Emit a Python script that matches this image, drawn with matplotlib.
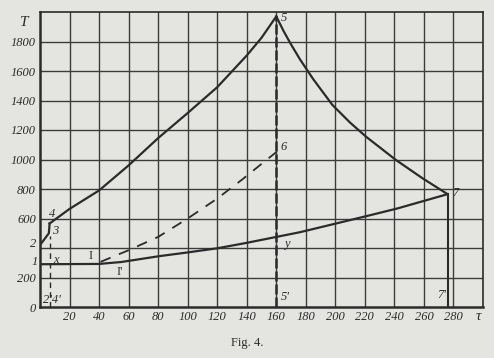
import matplotlib.pyplot as plt

# values (tau, T)
upper_tau = [6.5, 20, 40, 60, 80, 100, 120, 140, 150, 160]
upper_T = [566, 665, 790, 960, 1145, 1315, 1490, 1705, 1825, 1970]

right_tau = [160, 165, 170, 176, 185, 198, 210, 221, 241, 259, 276]
right_T = [1970, 1870, 1780, 1680, 1545, 1370, 1250, 1153, 997, 873, 765]

lower_tau = [0, 40, 55, 68, 81, 100, 120, 140, 160, 176, 200, 221, 242, 276]
lower_T = [290, 292, 305, 325, 345, 370, 398, 435, 475, 507, 565, 616, 668, 765]

dash_tau = [41, 60, 80, 100, 120, 137, 150, 160]
dash_T = [306, 385, 475, 600, 735, 865, 970, 1050]

start_tau = [0, 6, 6.5]     # 2 -> 3 -> 4
start_T = [420, 500, 566]

xticks = list(range(20, 300, 20))
yticks = [0, 200, 600, 800, 1000, 1200, 1400, 1600, 1800]

ink = '#2b2b2b'
paper = '#e4e4e0'

fig = plt.figure(figsize=(4.94, 3.58), dpi=100, facecolor=paper)
ax = fig.add_axes([40 / 494, 51 / 358, 443 / 494, 295 / 358], facecolor=paper)
ax.set_xlim(0, 300)
ax.set_ylim(0, 2000)

# grid
for x in range(20, 300, 20):
    ax.axvline(x, color='#3c3c3c', lw=1.0, zorder=1)
for y in range(200, 2000, 200):
    ax.axhline(y, color='#3c3c3c', lw=1.0, zorder=1)
for s in ax.spines.values():
    s.set_color(ink)
    s.set_linewidth(1.2)
ax.spines['left'].set_linewidth(1.8)
ax.spines['bottom'].set_linewidth(1.8)

# curves
ax.plot(upper_tau, upper_T, color=ink, lw=1.6, zorder=3)
ax.plot(right_tau, right_T, color=ink, lw=1.6, zorder=3)
ax.plot(lower_tau, lower_T, color=ink, lw=1.6, zorder=3)
ax.plot(start_tau, start_T, color=ink, lw=1.6, zorder=3)
ax.plot(dash_tau, dash_T, color=ink, lw=1.3, ls=(0, (6, 5)), zorder=3)
ax.plot([160, 160], [0, 1970], color=ink, lw=1.8, ls=(0, (4, 1.2)), zorder=3)
ax.plot([6.5, 6.5], [0, 480], color=ink, lw=1.0, ls=(0, (4, 3)), zorder=3)
ax.plot([276, 276], [0, 765], color=ink, lw=1.5, zorder=3)

# ticks
ax.set_xticks(xticks)
ax.set_yticks(yticks)
ax.set_xticklabels([str(v) for v in xticks])
ax.set_yticklabels([str(v) for v in yticks])
ax.tick_params(length=0, pad=3, labelsize=9, colors=ink)
for lab in ax.get_xticklabels() + ax.get_yticklabels():
    lab.set_fontfamily('Liberation Serif')
    lab.set_fontstyle('italic')

tf = dict(family='Liberation Serif', style='italic', color=ink, fontsize=9)
ax.text(297, -20, 'τ', ha='center', va='top', clip_on=False, fontsize=11,
        family='Liberation Serif', style='italic', color=ink)
ax.text(-11, 1930, 'T', ha='center', va='center', clip_on=False,
        fontsize=11, family='Liberation Serif', style='italic', color=ink)

# point labels
ax.text(163, 1960, '5', ha='left', va='center', **tf)
ax.text(163, 1085, '6', ha='left', va='center', **tf)
ax.text(279, 775, '7', ha='left', va='center', **tf)
ax.text(272, 80, "7'", ha='center', va='center', **tf)
ax.text(166, 65, "5'", ha='center', va='center', **tf)
ax.text(167, 430, 'y', ha='center', va='center', **tf)
ax.text(34, 345, 'I', ha='center', va='center', family='Liberation Serif',
        color=ink, fontsize=9)
ax.text(54, 238, "I'", ha='center', va='center', family='Liberation Serif',
        color=ink, fontsize=9)
ax.text(11, 320, 'x', ha='center', va='center', **tf)
ax.text(8, 630, '4', ha='center', va='center', **tf)
ax.text(10, 515, '3', ha='center', va='center', **tf)
ax.text(-4.5, 425, '2', ha='center', va='center', clip_on=False, **tf)
ax.text(-3.5, 305, '1', ha='center', va='center', clip_on=False, **tf)
ax.text(8, 50, "2'4'", ha='center', va='center', **tf)

fig.text(0.5, 15 / 358, 'Fig. 4.', ha='center', va='center',
         family='Liberation Serif', fontsize=9, color=ink)

fig.savefig('out.png', dpi=100, facecolor=paper)
